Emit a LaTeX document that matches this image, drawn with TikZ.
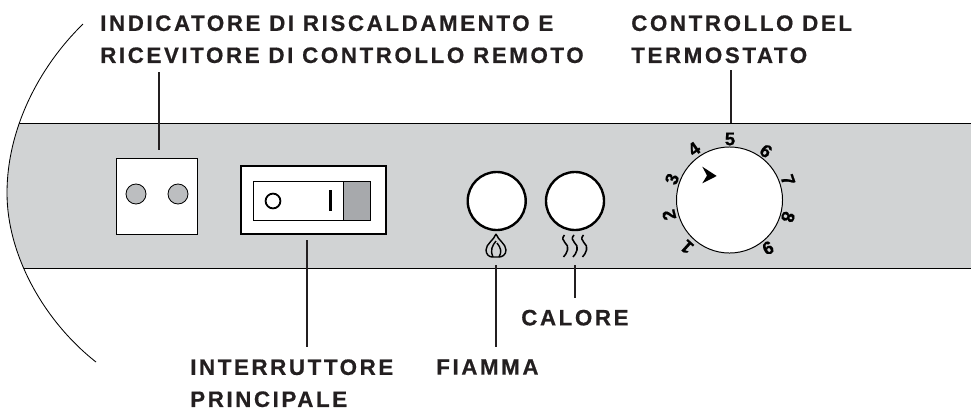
\documentclass[tikz,border=0pt]{standalone}
\usepackage{fontspec}
\setmainfont{Liberation Sans}
\newfontfamily\lblfont[LetterSpace=11.5,BoldFont={Liberation Sans Bold},BoldFeatures={FakeBold=0.5}]{Liberation Sans}
\newfontfamily\numfont[BoldFont={Liberation Sans Bold},BoldFeatures={FakeBold=1}]{Liberation Sans}
\usetikzlibrary{calc}
\definecolor{panelgray}{HTML}{D1D3D4}
\definecolor{ledgray}{HTML}{BCBEC0}
\definecolor{rockergray}{HTML}{A7A9AC}
\definecolor{inkblack}{HTML}{231F20}
\tikzset{
    lbl/.style={anchor=north west, inner sep=0pt, align=left, text=inkblack, font=\lblfont\bfseries\fontsize{15.9}{22.8}\selectfont},
    lead/.style={draw=inkblack, line width=1.4pt},
    whitebox/.style={draw=black, fill=white, inner sep=0pt, line width=.7pt},
    led/.style={circle, draw=black, fill=ledgray, inner sep=0pt, minimum size=.5cm, line width=.6pt},
    btn/.style={circle, draw=black, fill=white, inner sep=0pt, minimum size=1.45cm, line width=1.7pt},
    dialnum/.style={inner sep=0pt, text=black, font=\numfont\bfseries\fontsize{13}{13}\selectfont},
}
\begin{document}
\begin{tikzpicture}[x=.025cm, y=-.025cm]
\useasboundingbox (0,0) rectangle (971,409);
% panel
\begin{scope}
    \clip (83,24) .. controls (38,68) and (7,130) .. (7,193) .. controls (7,256) and (45,322) .. (96,362) -- (971,362) -- (971,24) -- cycle;
    \fill[panelgray] (0,123) rectangle (971,268);
    \draw[line width=.7pt] (0,123) -- (971,123) (0,268) -- (971,268);
\end{scope}
\draw[line width=.6pt] (83,24) .. controls (38,68) and (7,130) .. (7,193) .. controls (7,256) and (45,322) .. (96,362);
% indicator
\node[whitebox, minimum width=2cm, minimum height=1.9cm] (ledbox) at (157,196) {};
\node[led] (ledA) at (136,194) {};
\node[led] (ledB) at (178,194) {};
% main switch
\node[whitebox, minimum width=3.625cm, minimum height=1.7cm, line width=1pt] (swbox) at (313.5,200) {};
\node[whitebox, minimum width=2.925cm, minimum height=.98cm, line width=.6pt] (swin) at (311.7,201) {};
\node[draw=black, fill=rockergray, inner sep=0pt, minimum width=.66cm, minimum height=.98cm, line width=.6pt] (rocker) at (356.8,201) {};
\node[circle, draw=black, inner sep=0pt, minimum size=.37cm, line width=1.3pt] (swO) at (273,201) {};
\node[fill=black, inner sep=0pt, minimum width=.09cm, minimum height=.52cm] (swI) at (330.5,200.5) {};
% buttons and icons
\node[btn] (flame) at (496.7,201) {};
\node[btn] (heat) at (575,201) {};
\begin{scope}[shift={(496,246)}, line width=1pt]
    \draw (0,-12) .. controls (2,-6) and (10,-2) .. (10,4) .. controls (10,9) and (6,11) .. (3,11) -- (-4,11) .. controls (-7,11) and (-10,8) .. (-10,4) .. controls (-10,-2) and (-2,-6) .. (0,-12);
    \draw (0,-5) .. controls (-4,0) and (-6,4) .. (-3,11);
    \draw (1,-3) .. controls (5,2) and (6,6) .. (3,11);
\end{scope}
\foreach \dx in {-9.5,0,9.5} {
    \draw[line width=1.1pt, shift={(575+\dx,246)}] (-1,-11) .. controls (-7,-5) and (5,-2) .. (2,4) .. controls (1,7) and (0,9) .. (-2,11);
}
% dial
\node[circle, draw=black, fill=white, inner sep=0pt, minimum size=2.65cm, line width=.7pt] (dial) at (729.5,200) {};
\fill (702.3,166.7) -- (716.7,176) -- (702.3,183.3) -- (707,175.5) -- cycle;
\foreach \num/\px/\py/\rot in {5/730/139/0, 6/766/151/-36, 7/788/180/-71, 8/788/217/-107, 6/768/248/25, 1/687/247/138, 2/669/215/104, 3/672/179/70, 4/694/149/35} {
    \node[dialnum, rotate=\rot] (n\px) at (\px,\py) {\num};
}
% labels
\node[lbl] (lblled) at (100,15) {INDICATORE DI RISCALDAMENTO E\\RICEVITORE DI CONTROLLO REMOTO};
\node[lbl] (lbltherm) at (631,15) {CONTROLLO DEL\\TERMOSTATO};
\node[lbl] (lblsw) at (190,359) {INTERRUTTORE\\PRINCIPALE};
\node[lbl] (lblflame) at (436,359) {FIAMMA};
\node[lbl] (lblheat) at (521,309.5) {CALORE};
% leaders
\coordinate (ledtop) at (159,72);
\coordinate (ledend) at (159,150);
\coordinate (swtop) at (306.7,240);
\coordinate (swend) at (306.7,346.7);
\coordinate (flametop) at (495.7,265);
\coordinate (flameend) at (495.7,346.7);
\coordinate (heattop) at (575,265);
\coordinate (heatend) at (575,298);
\coordinate (thermtop) at (731,70);
\coordinate (thermend) at (731,123);
\draw[lead] (ledtop) -- (ledend);
\draw[lead] (swtop) -- (swend);
\draw[lead] (flametop) -- (flameend);
\draw[lead] (heattop) -- (heatend);
\draw[lead] (thermtop) -- (thermend);
\end{tikzpicture}
\end{document}
